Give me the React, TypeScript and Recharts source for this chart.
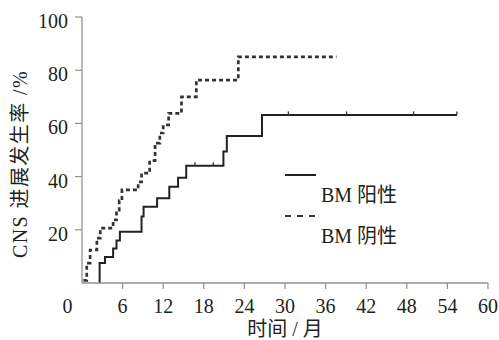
import React from 'react';
import { LineChart, Line, XAxis, YAxis, Legend } from 'recharts';

const xTicks = [0, 6, 12, 18, 24, 30, 36, 42, 48, 54, 60];
const yTicks = [20, 40, 60, 80, 100];

// BM 阳性 (solid)
const posTimes = [2.6, 2.6, 3.4, 4.6, 5.1, 5.6, 8.8, 9.1, 11.1, 12.9, 14.2, 15.4, 20.9, 21.4, 26.6, 55.4];
const posValues = [0, 7.5, 9.8, 13, 16, 19.3, 25, 28.7, 31.9, 36.2, 39.6, 44.1, 49.4, 55.3, 63.2, 63.2];
const posCensorTimes = [16.7, 19.4, 30.5, 39.1, 49, 55.4];
const posCensorValues = [44.1, 44.1, 63.2, 63.2, 63.2, 63.2];

// BM 阴性 (dashed)
const negTimes = [0.2, 0.7, 1.2, 2.2, 2.7, 4.6, 5.1, 5.5, 5.9, 8.3, 8.8, 10.0, 10.8, 11.5, 12.0, 12.8, 14.7, 16.9, 23.1, 37.6];
const negValues = [1, 7.5, 12.4, 16.9, 20.6, 23.7, 27.4, 31, 35, 38, 41.3, 46, 52.6, 56.4, 59.4, 63.8, 70, 76.3, 85, 85];

const seriesNames = ['BM 阳性', 'BM 阴性'];
const xLabel = '时间 / 月';
const yLabel = 'CNS 进展发生率 /%';

const FONT = "'Liberation Serif', 'Times New Roman', 'Noto Sans CJK SC', serif";
const TEXT = '#231f20';
const AXIS = '#9a8f88';

const posData = posTimes.map((t, i) => ({ t, v: posValues[i] }));
const negData = negTimes.map((t, i) => ({ t, v: negValues[i] }));
const censorData = posCensorTimes.map((t, i) => ({ t, v: posCensorValues[i] }));

const XTick = (props: any) => {
  const { x, y, payload } = props;
  const isZero = payload.value === 0;
  return (
    <g>
      {!isZero && <line x1={x} y1={y} x2={x} y2={y + 6} stroke={AXIS} strokeWidth={1.2} />}
      <text x={isZero ? x - 14.5 : x} y={y + 30} textAnchor="middle" fontSize={20} fontFamily={FONT} fill={TEXT}>
        {payload.value}
      </text>
    </g>
  );
};

const YTick = (props: any) => {
  const { x, y, payload } = props;
  return (
    <g>
      <line x1={x - 7} y1={y} x2={x} y2={y} stroke={AXIS} strokeWidth={1.2} />
      <text x={x - 14} y={y + 11} textAnchor="end" fontSize={20} fontFamily={FONT} fill={TEXT}>
        {payload.value}
      </text>
    </g>
  );
};

const CensorDot = (props: any) => {
  const { cx, cy, index } = props;
  if (cx == null || cy == null) return <g key={index} />;
  return <line key={index} x1={cx} y1={cy - 3.5} x2={cx} y2={cy} stroke="#333" strokeWidth={1.3} />;
};

const renderLegend = () => (
  <svg width={130} height={95} style={{ display: 'block', overflow: 'visible' }}>
    <line x1={5} y1={15} x2={36} y2={15} stroke="#222" strokeWidth={2} />
    <text x={41} y={41.5} fontSize={20} fontFamily={FONT} fill={TEXT}>{seriesNames[0]}</text>
    <line x1={5} y1={56} x2={37} y2={56} stroke="#333" strokeWidth={2.2} strokeDasharray="6 6" />
    <text x={41} y={83} fontSize={20} fontFamily={FONT} fill={TEXT}>{seriesNames[1]}</text>
  </svg>
);

export default function App() {
  return (
    <div style={{ position: 'absolute', left: 0, top: 0, width: 499, height: 340, background: '#fff' }}>
      <LineChart width={499} height={340} margin={{ top: 17, right: 11, bottom: 0, left: 0 }}>
        <XAxis
          dataKey="t"
          type="number"
          domain={[0, 60]}
          ticks={xTicks}
          interval={0}
          height={57}
          tickSize={0}
          tickMargin={0}
          tickLine={false}
          axisLine={{ stroke: AXIS, strokeWidth: 1.3 }}
          tick={<XTick />}
          allowDuplicatedCategory={false}
        />
        <YAxis
          type="number"
          domain={[0, 100]}
          ticks={yTicks}
          interval={0}
          width={82}
          tickSize={0}
          tickMargin={0}
          tickLine={false}
          axisLine={{ stroke: AXIS, strokeWidth: 1.3 }}
          tick={<YTick />}
        />
        <Legend
          layout="horizontal"
          verticalAlign="middle"
          align="center"
          content={renderLegend}
          wrapperStyle={{ left: 280, top: 160, width: 130, height: 95 }}
        />
        <Line
          data={negData}
          dataKey="v"
          type="stepAfter"
          stroke="#333"
          strokeWidth={2.7}
          strokeDasharray="4 3"
          dot={false}
          activeDot={false}
          isAnimationActive={false}
        />
        <Line
          data={posData}
          dataKey="v"
          type="stepAfter"
          stroke="#222"
          strokeWidth={2}
          dot={false}
          activeDot={false}
          isAnimationActive={false}
        />
        <Line
          data={censorData}
          dataKey="v"
          stroke="none"
          dot={<CensorDot />}
          activeDot={false}
          isAnimationActive={false}
        />
        <text x={285} y={336} textAnchor="middle" fontSize={20} fontFamily={FONT} fill={TEXT}>{xLabel}</text>
        <text transform="translate(27,164) rotate(-90)" textAnchor="middle" fontSize={20} letterSpacing={1.4} fontFamily={FONT} fill={TEXT}>{yLabel}</text>
      </LineChart>
    </div>
  );
}
